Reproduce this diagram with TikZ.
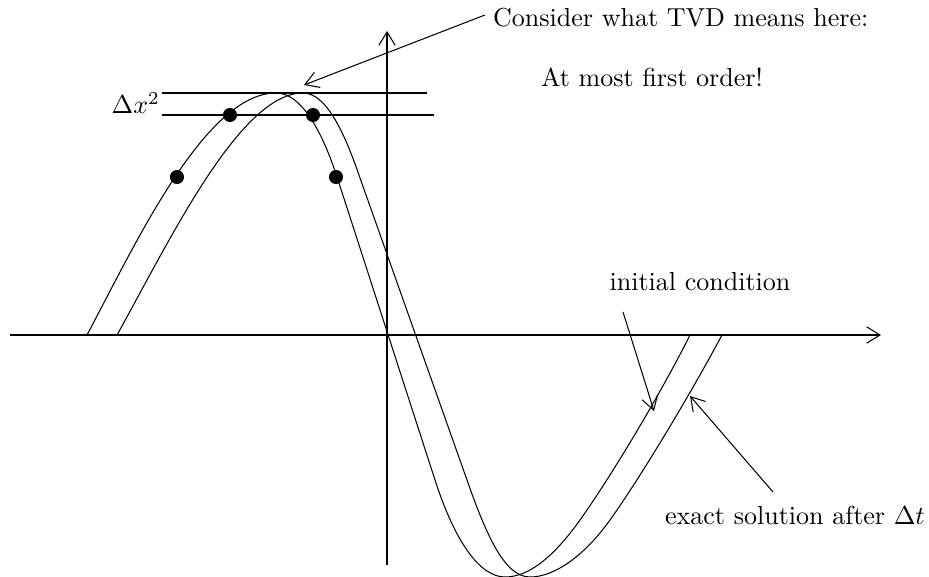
\documentclass[tikz,border=0pt]{standalone}
\usepackage{amsmath}
\usetikzlibrary{positioning,arrows.meta}
\tikzset{
  axisline/.style={-{Straight Barb[length=1.8mm,width=2.2mm]}, thin},
  wave/.style={thin},
  gridline/.style={thin},
  pointer/.style={-{Straight Barb[length=1.8mm,width=2.2mm]}, thin},
  marker/.style={circle, fill=black, inner sep=0pt, minimum size=5.4pt},
  note/.style={font=\normalsize, inner sep=1pt}
}
\begin{document}
\begin{tikzpicture}[x=0.0135cm, y=-0.0135cm]
  \useasboundingbox (0,0) rectangle (929,577);
  % axes
  \coordinate (xstart) at (10,335);
  \coordinate (xend) at (881,335);
  \coordinate (ystart) at (387,565);
  \coordinate (yend) at (387,31);
  \draw[axisline] (xstart) -- (xend);
  \draw[axisline] (ystart) -- (yend);
  % initial condition
  \draw[wave] (87,335) .. controls (135,245) and (205,93) .. (276,93)
    .. controls (300,93) and (321,127) .. (338,180) -- (435,480)
    .. controls (455,542) and (480,577) .. (505,577)
    .. controls (530,577) and (555,555) .. (580,520)
    .. controls (610,478) and (660,395) .. (690,335);
  % exact solution after one step
  \draw[wave] (117,335) .. controls (170,240) and (240,93) .. (303,93)
    .. controls (325,93) and (343,128) .. (360,178) -- (467,480)
    .. controls (487,537) and (505,577) .. (530,577)
    .. controls (555,577) and (585,555) .. (610,520)
    .. controls (640,478) and (690,395) .. (722,335);
  % levels
  \coordinate (topl) at (162,93);
  \coordinate (topr) at (427,93);
  \coordinate (lowl) at (162,115);
  \coordinate (lowr) at (434,115);
  \draw[gridline] (topl) -- (topr);
  \draw[gridline] (lowl) -- (lowr);
  \node[note, anchor=east] (dx) at (163,103) {$\Delta x^2$};
  % sample points
  \node[marker] (p1) at (177,177) {};
  \node[marker] (p2) at (230,115) {};
  \node[marker] (p3) at (313,115) {};
  \node[marker] (p4) at (336,177) {};
  % labels
  \node[note, anchor=west] (tvd) at (490,18) {Consider what TVD means here:};
  \node[note] (order) at (652,77) {At most first order!};
  \node[note] (init) at (700,282) {initial condition};
  \node[note, anchor=east] (exact) at (928,515) {exact solution after $\Delta t$};
  \coordinate (peak) at (304,85);
  \coordinate (initpt) at (654,411);
  \coordinate (exactpt) at (690,396);
  \coordinate (tvdfoot) at (485,15);
  \coordinate (initfoot) at (623,312);
  \coordinate (exactfoot) at (773,492);
  \draw[pointer] (tvdfoot) -- (peak);
  \draw[pointer] (initfoot) -- (initpt);
  \draw[pointer] (exactfoot) -- (exactpt);
\end{tikzpicture}
\end{document}
